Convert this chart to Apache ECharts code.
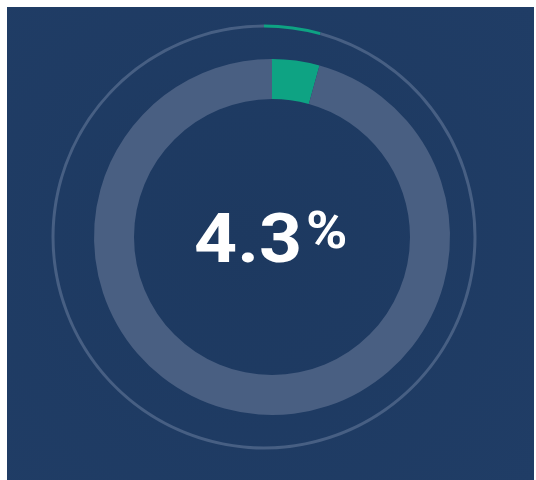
<!DOCTYPE html>
<html>
<head>
<meta charset="utf-8">
<script src="https://cdn.jsdelivr.net/npm/echarts@6/dist/echarts.min.js"></script>
<style>
  html, body { margin: 0; padding: 0; background: #ffffff; }
  #wrap { position: relative; width: 536px; height: 480px; overflow: hidden; }
  #chart { position: absolute; left: 7px; top: 7px; width: 527px; height: 473px; }
</style>
</head>
<body>
<div id="wrap"><div id="chart"></div></div>
<script>
// share shown in the gauge
const shareLabel = "4.3";
const shareValues = [4.3, 95.7];
const shareNames = ["share", "rest"];

const GREEN = "#0ea383";
const TRACK = "#495f82";
const THIN = "#475f83";

const chart = echarts.init(document.getElementById("chart"));

const ringData = (rest) => shareValues.map((v, i) => ({
  name: shareNames[i],
  value: v,
  itemStyle: { color: i === 0 ? GREEN : rest },
}));

const pieBase = {
  type: "pie",
  startAngle: 90,
  clockwise: true,
  silent: true,
  label: { show: false },
  labelLine: { show: false },
  itemStyle: { borderWidth: 0 },
};

chart.setOption({
  backgroundColor: {
    type: "radial",
    x: 0.45, y: 0.5, r: 0.8,
    colorStops: [
      { offset: 0, color: "#1d3960" },
      { offset: 1, color: "#203d66" },
    ],
  },
  animation: false,
  series: [
    // outer thin ring
    Object.assign({}, pieBase, {
      center: [257, 230],
      radius: [209.5, 212.5],
      data: ringData(THIN),
    }),
    // thick ring
    Object.assign({}, pieBase, {
      center: [265, 230],
      radius: [138, 178],
      data: ringData(TRACK),
    }),
  ],
  graphic: [
    {
      type: "text",
      x: 187,
      y: 238,
      scaleX: 1.09,
      style: {
        text: shareLabel,
        fontFamily: "Roboto",
        fontWeight: "bold",
        fontSize: 69,
        fill: "#ffffff",
        align: "left",
        verticalAlign: "middle",
      },
    },
    {
      type: "text",
      x: 299,
      y: 228,
      scaleX: 1.1,
      style: {
        text: "%",
        fontFamily: "Roboto",
        fontWeight: "bold",
        fontSize: 51,
        fill: "#ffffff",
        align: "left",
        verticalAlign: "middle",
      },
    },
  ],
});
</script>
</body>
</html>
